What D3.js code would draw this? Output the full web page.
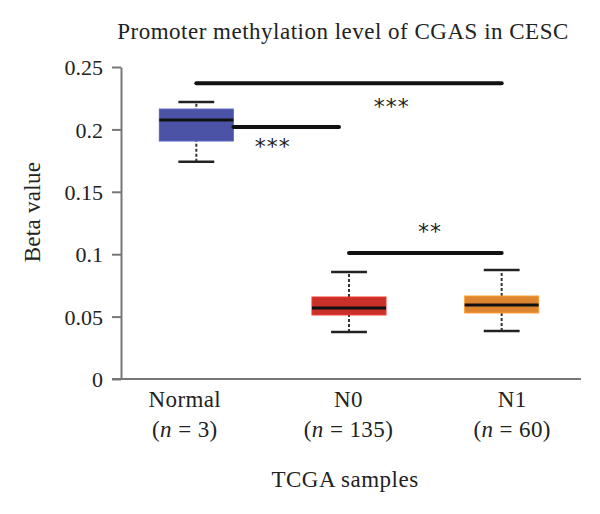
<!DOCTYPE html>
<html>
<head>
<meta charset="utf-8">
<script src="https://cdn.jsdelivr.net/npm/d3@7"></script>
<style>
  body { margin: 0; background: #fff; }
  text { font-family: "Liberation Serif", "DejaVu Serif", serif; fill: #222; }
</style>
</head>
<body>
<script>
// data
var groups = ["Normal", "N0", "N1"];
var groupN = [3, 135, 60];
var groupColours = ["#4a53a6", "#c9302a", "#de8530"];
var whiskerLow = [0.174, 0.0377, 0.0385];
var q1 = [0.1907, 0.0513, 0.0529];
var medians = [0.2075, 0.0569, 0.0593];
var q3 = [0.2163, 0.0657, 0.0665];
var whiskerHigh = [0.222, 0.0857, 0.0873];
var yTicks = [0, 0.05, 0.1, 0.15, 0.2, 0.25];

// significance brackets: from group, to group, height, stars (sx/sy = star position)
var brackets = [
  {from: "Normal", to: "N1", y: 0.237, stars: "***", sx: 0.64, sy: 0.212},
  {from: "Normal", to: "N0", y: 0.202, stars: "***", sx: 0.5, sy: 0.180},
  {from: "N0", to: "N1", y: 0.101, stars: "**", sx: 0.53, sy: 0.1125}
];

var width = 600, height = 514;
var margin = {top: 67, right: 22, bottom: 135, left: 121};

var svg = d3.select("body").append("svg")
  .attr("width", width)
  .attr("height", height);

var x = d3.scalePoint()
  .domain(groups)
  .range([margin.left - 1, width - margin.right])
  .padding(0.5);

// category labels sit a little wider apart than the boxes
var xLabel = d3.scalePoint()
  .domain(groups)
  .range([103, 594])
  .padding(0.5);

var y = d3.scaleLinear()
  .domain([0, 0.25])
  .range([height - margin.bottom, margin.top]);

var boxW = x.step() * 0.485;
var capW = x.step() * 0.235;

// title
svg.append("text")
  .attr("x", 343)
  .attr("y", 39)
  .attr("text-anchor", "middle")
  .style("font-size", "23px")
  .style("letter-spacing", "0.5px")
  .text("Promoter methylation level of CGAS in CESC");

// y axis
var yAxis = svg.append("g")
  .attr("transform", "translate(" + margin.left + ",0)")
  .call(d3.axisLeft(y).tickValues(yTicks).tickSize(9).tickSizeOuter(0)
    .tickFormat(function(d) { return d === 0 ? "0" : String(+d.toFixed(2)); }));
yAxis.select(".domain").attr("stroke", "#777").attr("stroke-width", 2);
yAxis.selectAll(".tick line").attr("stroke", "#777").attr("stroke-width", 2);
yAxis.selectAll(".tick text")
  .attr("x", -18)
  .attr("dy", "0.35em")
  .style("font-size", "22px")
  .style("font-family", "Liberation Serif, serif")
  .attr("fill", "#222");

// x axis
var xAxis = svg.append("g")
  .attr("transform", "translate(0," + y(0) + ")")
  .call(d3.axisBottom(x).tickSize(0).tickSizeOuter(0).tickFormat(""));
xAxis.select(".domain")
  .attr("d", "M" + (margin.left - 9) + ",0H" + (width - margin.right + 3))
  .attr("stroke", "#777").attr("stroke-width", 2);

var labels = svg.append("g").selectAll("g.lab")
  .data(groups)
  .enter().append("g")
    .attr("class", "lab")
    .attr("transform", function(d) { return "translate(" + xLabel(d) + ",0)"; });

labels.append("text")
  .attr("y", 407)
  .attr("text-anchor", "middle")
  .style("font-size", "23px")
  .style("letter-spacing", "0.4px")
  .text(function(d) { return d; });

var nLab = labels.append("text")
  .attr("y", 437)
  .attr("text-anchor", "middle")
  .style("font-size", "23px")
  .style("letter-spacing", "0.4px");
nLab.append("tspan").text("(");
nLab.append("tspan").style("font-style", "italic").text("n");
nLab.append("tspan").text(function(d, i) { return " = " + groupN[i] + ")"; });

svg.append("text")
  .attr("x", 345)
  .attr("y", 487)
  .attr("text-anchor", "middle")
  .style("font-size", "23px")
  .style("letter-spacing", "0.5px")
  .text("TCGA samples");

svg.append("text")
  .attr("transform", "translate(40,212) rotate(-90)")
  .attr("text-anchor", "middle")
  .style("font-size", "23px")
  .style("letter-spacing", "0.3px")
  .text("Beta value");

// boxes
var box = svg.append("g").selectAll("g.box")
  .data(groups)
  .enter().append("g")
    .attr("class", "box");

box.append("line")
  .attr("x1", function(d) { return x(d); })
  .attr("x2", function(d) { return x(d); })
  .attr("y1", function(d, i) { return y(whiskerLow[i]); })
  .attr("y2", function(d, i) { return y(whiskerHigh[i]); })
  .attr("stroke", "#333")
  .attr("stroke-width", 2)
  .attr("stroke-dasharray", "3,2");

box.selectAll("line.cap")
  .data(function(d, i) {
    return [{g: d, v: whiskerLow[i]}, {g: d, v: whiskerHigh[i]}];
  })
  .enter().append("line")
    .attr("class", "cap")
    .attr("x1", function(d) { return x(d.g) - capW / 2; })
    .attr("x2", function(d) { return x(d.g) + capW / 2; })
    .attr("y1", function(d) { return y(d.v); })
    .attr("y2", function(d) { return y(d.v); })
    .attr("stroke", "#222")
    .attr("stroke-width", 2.5);

box.append("rect")
  .attr("x", function(d) { return x(d) - boxW / 2; })
  .attr("width", boxW)
  .attr("y", function(d, i) { return y(q3[i]); })
  .attr("height", function(d, i) { return y(q1[i]) - y(q3[i]); })
  .attr("fill", function(d, i) { return groupColours[i]; })
  .attr("stroke", function(d, i) { return d3.color(groupColours[i]).brighter(0.5); })
  .attr("stroke-width", 1);

box.append("line")
  .attr("x1", function(d) { return x(d) - boxW / 2; })
  .attr("x2", function(d) { return x(d) + boxW / 2; })
  .attr("y1", function(d, i) { return y(medians[i]); })
  .attr("y2", function(d, i) { return y(medians[i]); })
  .attr("stroke", "#111")
  .attr("stroke-width", 3);

// significance brackets
var br = svg.append("g").selectAll("g.br")
  .data(brackets)
  .enter().append("g");

br.append("line")
  .attr("x1", function(d) {
    return d.from === "Normal" && d.to === "N0" ? x(d.from) + boxW / 2 : x(d.from);
  })
  .attr("x2", function(d) { return x(d.to) - (d.to === "N0" ? 10 : 0); })
  .attr("y1", function(d) { return y(d.y); })
  .attr("y2", function(d) { return y(d.y); })
  .attr("stroke", "#111")
  .attr("stroke-width", 4)
  .attr("stroke-linecap", "round");

br.append("text")
  .attr("x", function(d) { return x(d.from) + (x(d.to) - x(d.from)) * d.sx; })
  .attr("y", function(d) { return y(d.sy); })
  .attr("text-anchor", "middle")
  .style("font-size", "22px")
  .style("font-family", "DejaVu Sans, sans-serif")
  .style("letter-spacing", "1px")
  .attr("fill", "#333")
  .text(function(d) { return d.stars; });
</script>
</body>
</html>
